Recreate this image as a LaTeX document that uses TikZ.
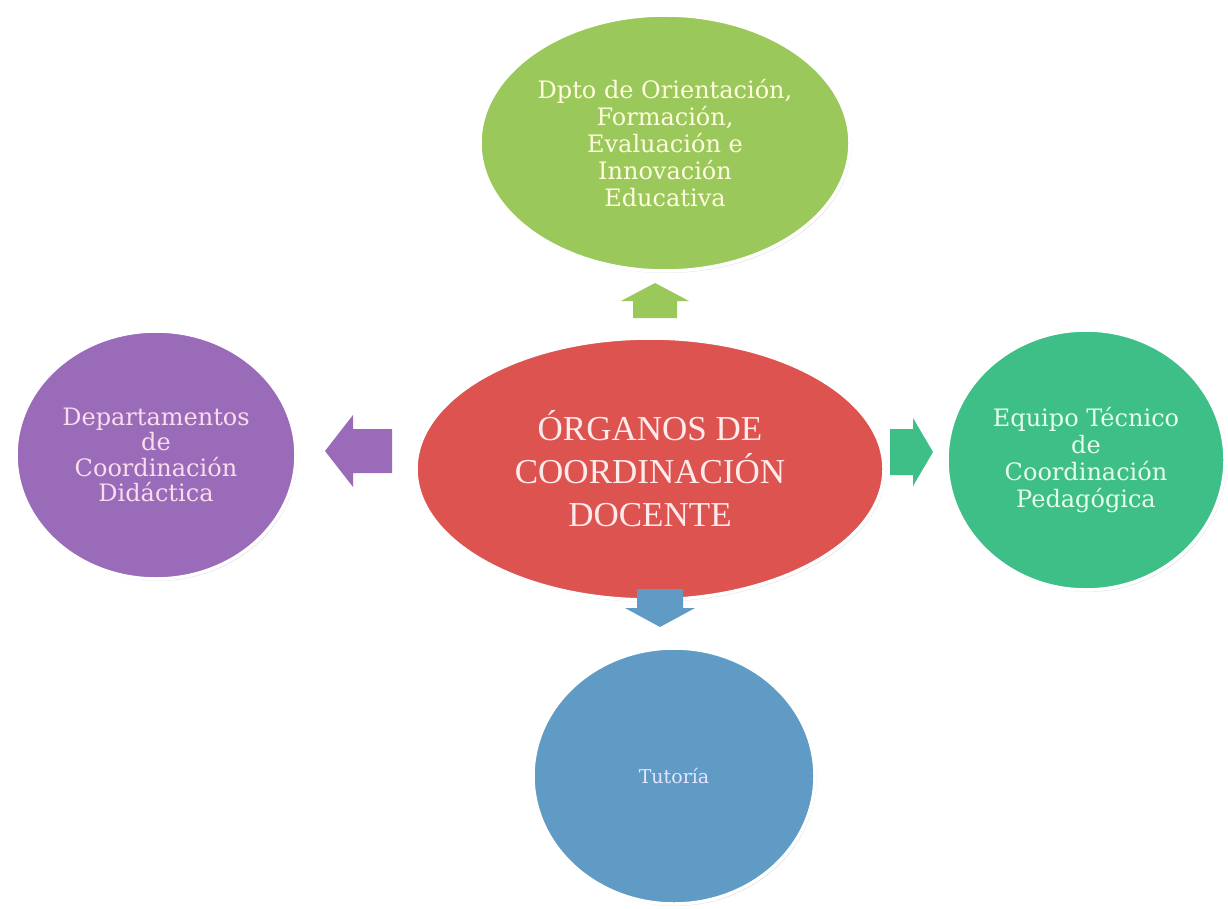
\documentclass[tikz,border=0pt]{standalone}
\usepackage{fontspec}
\setmainfont{DejaVu Serif}
\newfontfamily\ctrfont{Liberation Serif}
\usetikzlibrary{shapes.geometric,shadows}
\definecolor{cgreen}{HTML}{9BC85A}
\definecolor{cred}{HTML}{DC5350}
\definecolor{cpurple}{HTML}{9A6BB8}
\definecolor{cteal}{HTML}{3DBF87}
\definecolor{cblue}{HTML}{5F9BC5}
\begin{document}
\begin{tikzpicture}[x=1pt,y=-1pt,
  bubble/.style={ellipse, inner sep=0pt, draw=white, line width=3.5pt, align=center,
    font=\fontsize{24}{27}\selectfont,
    drop shadow={shadow xshift=1.5pt, shadow yshift=-2pt, opacity=0.22}},
  blockarrow/.style={draw=none}]
\fill[white] (0,0) rectangle (1228,909);
\useasboundingbox (0,0) rectangle (1228,909);

\node[bubble, fill=cgreen, text=white!88!yellow, minimum width=370pt, minimum height=256pt] (top) at (665,143)
  {Dpto de Orientación,\\Formación,\\Evaluación e\\Innovación\\Educativa};
\node[bubble, fill=cred, text=white!92!red, minimum width=468pt, minimum height=262pt,
  font=\ctrfont\fontsize{35}{43}\selectfont] (ctr) at (650,469)
  {ÓRGANOS DE\\COORDINACIÓN\\DOCENTE};
\node[bubble, fill=cpurple, text=white!86!magenta, minimum width=280pt, minimum height=248pt,
  font=\fontsize{24}{25.5}\selectfont] (left) at (156,455)
  {Departamentos\\de\\Coordinación\\Didáctica};
\node[bubble, fill=cteal, text=white!90!green, minimum width=278pt, minimum height=260pt] (right) at (1086,460)
  {Equipo Técnico\\de\\Coordinación\\Pedagógica};
\node[bubble, fill=cblue, text=white!90!blue, minimum width=282pt, minimum height=256pt,
  font=\fontsize{19}{24}\selectfont] (bot) at (674,776)
  {Tutoría};

% block arrows
\fill[cgreen, blockarrow] (655,283) -- (689,301) -- (677,301) -- (677,318) -- (633,318) -- (633,301) -- (621,301) -- cycle;
\fill[cpurple, blockarrow] (325,451) -- (353,415) -- (353,429) -- (392,429) -- (392,473) -- (353,473) -- (353,487) -- cycle;
\fill[cteal, blockarrow] (933,452) -- (913,418) -- (913,429) -- (890,429) -- (890,475) -- (913,475) -- (913,486) -- cycle;
\fill[cblue, blockarrow] (660,627) -- (695,608) -- (683,608) -- (683,589) -- (637,589) -- (637,608) -- (625,608) -- cycle;
\end{tikzpicture}
\end{document}
